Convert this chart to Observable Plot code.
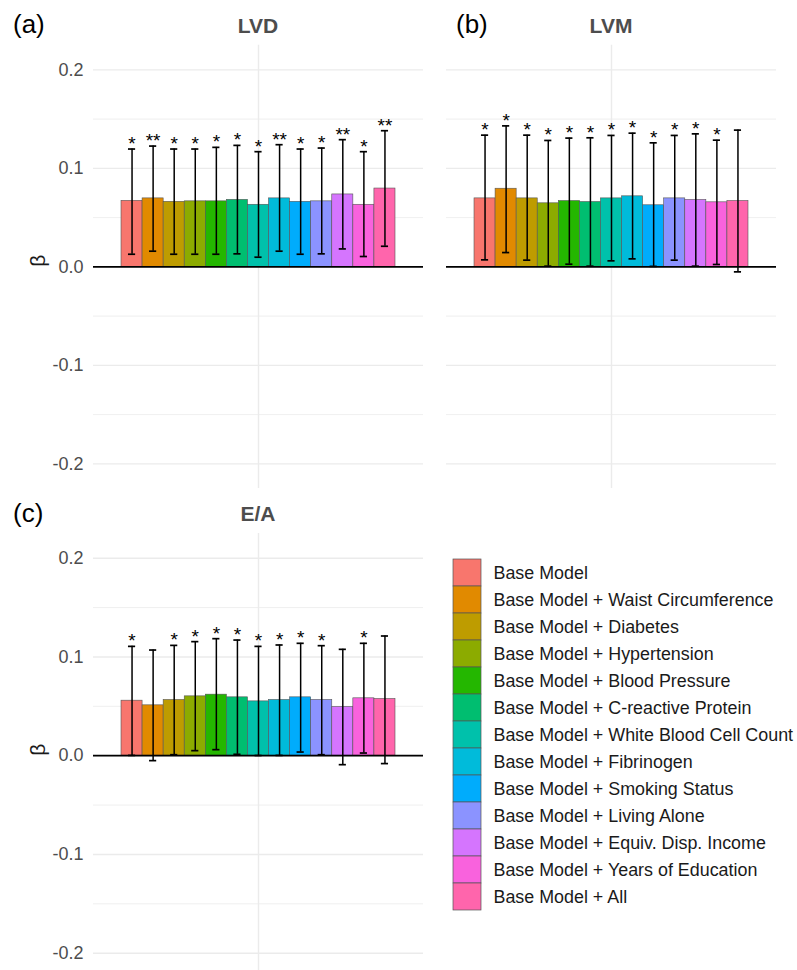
<!DOCTYPE html>
<html>
<head>
<meta charset="utf-8">
<script src="https://cdn.jsdelivr.net/npm/d3@7"></script>
<script src="https://cdn.jsdelivr.net/npm/@observablehq/plot@0.6"></script>
<style>
  html, body { margin: 0; padding: 0; background: #fff; }
  body { font-family: "Liberation Sans", Arial, sans-serif; }
  #root { position: relative; width: 797px; height: 970px; overflow: hidden; background: #fff; }
  #root > svg, #root > div { position: absolute; }
  .tag { position: absolute; font-size: 26px; color: #000; line-height: 1; }
  .ptitle { position: absolute; font-size: 21px; font-weight: bold; color: #4d4d4d; line-height: 1; transform: translateX(-50%); }
</style>
</head>
<body>
<div id="root"></div>
<script>
// ---------------- data ----------------
const models = [
  "Base Model",
  "Base Model + Waist Circumference",
  "Base Model + Diabetes",
  "Base Model + Hypertension",
  "Base Model + Blood Pressure",
  "Base Model + C-reactive Protein",
  "Base Model + White Blood Cell Count",
  "Base Model + Fibrinogen",
  "Base Model + Smoking Status",
  "Base Model + Living Alone",
  "Base Model + Equiv. Disp. Income",
  "Base Model + Years of Education",
  "Base Model + All"
];
const modelColors = ["#F8766D","#E18A00","#BE9C00","#8CAB00","#24B700","#00BE70","#00C1AB","#00BBDA","#00ACFC","#8B93FF","#D575FE","#F962DD","#FF65AC"];

const lvdBeta = [0.067, 0.0695, 0.066, 0.0665, 0.0665, 0.068, 0.063, 0.0695, 0.066, 0.0665, 0.0735, 0.063, 0.0795];
const lvdLow  = [0.0128, 0.0159, 0.0128, 0.0128, 0.0128, 0.0132, 0.0098, 0.0159, 0.0128, 0.0132, 0.0182, 0.0105, 0.0209];
const lvdHigh = [0.1196, 0.1226, 0.1196, 0.1196, 0.1213, 0.1233, 0.1169, 0.1240, 0.1196, 0.1206, 0.1291, 0.1169, 0.1382];
const lvdSig  = ["*", "**", "*", "*", "*", "*", "*", "**", "*", "*", "**", "*", "**"];

const lvmBeta = [0.0695, 0.0793, 0.0695, 0.0645, 0.0668, 0.0658, 0.0695, 0.0716, 0.0625, 0.0695, 0.0679, 0.0655, 0.0668];
const lvmLow  = [0.0071, 0.0145, 0.0068, 0.0007, 0.0027, 0.0007, 0.0061, 0.0081, 0.0005, 0.0068, 0.0007, 0.0024, -0.0051];
const lvmHigh = [0.1337, 0.1431, 0.1337, 0.1283, 0.1307, 0.1310, 0.1334, 0.1357, 0.1259, 0.1334, 0.1350, 0.1286, 0.1388];
const lvmSig  = ["*", "*", "*", "*", "*", "*", "*", "*", "*", "*", "*", "*", ""];

const eaBeta = [0.0557, 0.0510, 0.0564, 0.0601, 0.0618, 0.0591, 0.0550, 0.0564, 0.0591, 0.0564, 0.0493, 0.0581, 0.0574];
const eaLow  = [0.0003, -0.0050, 0.0010, 0.0051, 0.0061, 0.0014, 0.0002, 0.0003, 0.0037, 0.0010, -0.0091, 0.0027, -0.0080];
const eaHigh = [0.1107, 0.1070, 0.1117, 0.1155, 0.1185, 0.1171, 0.1107, 0.1121, 0.1138, 0.1114, 0.1077, 0.1138, 0.1212];
const eaSig  = ["*", "", "*", "*", "*", "*", "*", "*", "*", "*", "", "*", ""];

const majorTicks = [-0.2, -0.1, 0, 0.1, 0.2];
const minorTicks = [-0.15, -0.05, 0.05, 0.15];
const yDomain = [-0.225, 0.225];

// ---------------- layout helpers ----------------
const FONT = '"Liberation Sans", Arial, sans-serif';
const groupPos = 1;          // the single discrete x position (ggplot style)
const groupWidth = 0.9;      // dodge width
const halfSpan = 0.542;      // half of x domain
const bw = groupWidth / models.length;
const cap = bw * 0.17;

function panel({beta, low, high, sig, left, top, width, height, marginLeft, marginTop, showAxis}) {
  const rows = models.map((m, i) => {
    const x1 = groupPos - groupWidth / 2 + i * bw;
    return {model: m, x1, x2: x1 + bw, xc: x1 + bw / 2, beta: beta[i], low: low[i], high: high[i], sig: sig[i]};
  });
  const svg = Plot.plot({
    width, height, marginLeft, marginTop, marginRight: 0, marginBottom: 0,
    x: {domain: [groupPos - halfSpan, groupPos + halfSpan], axis: null},
    y: {domain: yDomain, axis: null},
    color: {domain: models, range: modelColors},
    style: {fontFamily: FONT, background: "transparent", overflow: "visible"},
    marks: [
      Plot.ruleY(minorTicks, {stroke: "#ebebeb", strokeWidth: 0.8}),
      Plot.ruleY(majorTicks, {stroke: "#ebebeb", strokeWidth: 1.4}),
      Plot.ruleX([groupPos], {stroke: "#ebebeb", strokeWidth: 1.4}),
      showAxis ? Plot.axisY({ticks: majorTicks, tickSize: 0, tickPadding: 10, tickFormat: d => d.toFixed(1), fontSize: 18, fill: "#4d4d4d", label: null}) : null,
      showAxis ? Plot.text(["β"], {frameAnchor: "left", dx: -(marginLeft - 38), rotate: -90, fontSize: 21, fill: "#1a1a1a"}) : null,
      Plot.rectY(rows, {x1: "x1", x2: "x2", y1: 0, y2: "beta", fill: "model", stroke: "#555", strokeWidth: 0.6}),
      Plot.ruleY([0], {stroke: "#000", strokeWidth: 1.7}),
      Plot.ruleX(rows, {x: "xc", y1: "low", y2: "high", stroke: "#000", strokeWidth: 1.5}),
      Plot.ruleY(rows, {y: "high", x1: d => d.xc - cap, x2: d => d.xc + cap, stroke: "#000", strokeWidth: 1.7}),
      Plot.ruleY(rows, {y: "low", x1: d => d.xc - cap, x2: d => d.xc + cap, stroke: "#000", strokeWidth: 1.7}),
      Plot.text(rows, {x: "xc", y: "high", text: "sig", lineAnchor: "bottom", dy: 1, fontSize: 19, fill: "#000"})
    ]
  });
  svg.style.left = left + "px";
  svg.style.top = top + "px";
  return svg;
}

const root = document.getElementById("root");

root.appendChild(panel({beta: lvdBeta, low: lvdLow, high: lvdHigh, sig: lvdSig,
  left: 0, top: 0, width: 423, height: 488, marginLeft: 93, marginTop: 44.7, showAxis: true}));
root.appendChild(panel({beta: lvmBeta, low: lvmLow, high: lvmHigh, sig: lvmSig,
  left: 430, top: 0, width: 346, height: 488, marginLeft: 16, marginTop: 44.7, showAxis: false}));
root.appendChild(panel({beta: eaBeta, low: eaLow, high: eaHigh, sig: eaSig,
  left: 0, top: 490, width: 423, height: 487.4, marginLeft: 93, marginTop: 43, showAxis: true}));

// ---------------- legend ----------------
const legendTop = 550;
const keyH = 27.7;
const legend = Plot.plot({
  width: 357, height: 13 * keyH + 10, margin: 0,
  x: {domain: ["key"], range: [13, 41], padding: 0, axis: null},
  y: {domain: models, range: [4.3, 4.3 + 13 * keyH], padding: 0, axis: null},
  color: {domain: models, range: modelColors},
  style: {fontFamily: FONT, background: "transparent", overflow: "visible"},
  marks: [
    Plot.cell(models, {x: () => "key", y: d => d, fill: d => d, stroke: "#555", strokeWidth: 0.7}),
    Plot.text(models, {x: () => "key", y: d => d, text: d => d, textAnchor: "start", dx: 26, fontSize: 17.9, fill: "#1a1a1a"})
  ]
});
legend.style.left = "440px";
legend.style.top = legendTop + "px";
root.appendChild(legend);

// ---------------- labels ----------------
function addLabel(cls, text, x, y) {
  const d = document.createElement("span");
  d.className = cls;
  d.textContent = text;
  d.style.left = x + "px";
  d.style.top = y + "px";
  root.appendChild(d);
}
addLabel("tag", "(a)", 13, 11);
addLabel("tag", "(b)", 456, 11);
addLabel("tag", "(c)", 13, 500);
addLabel("ptitle", "LVD", 258, 15);
addLabel("ptitle", "LVM", 611, 15);
addLabel("ptitle", "E/A", 258, 503);
</script>
</body>
</html>
